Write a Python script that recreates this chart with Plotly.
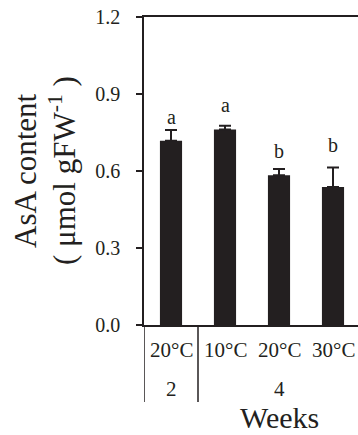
import plotly.graph_objects as go

categories = ["20°C", "10°C", "20°C", "30°C"]
week_labels = ["2", "4"]
week_centers = [0, 2]
values = [0.718, 0.762, 0.583, 0.538]
errors = [0.042, 0.014, 0.025, 0.076]
letters = ["a", "a", "b", "b"]
letter_y = [0.779, 0.825, 0.647, 0.669]
y_ticks = [0.0, 0.3, 0.6, 0.9, 1.2]

INK = "#231f20"
FONT = "Liberation Serif"

W, H = 358, 435
ML, MT, MB = 144, 17, 110
plot_h = H - MT - MB
plot_w = W - ML

x_idx = list(range(len(categories)))

fig = go.Figure()
fig.add_trace(go.Bar(
    x=x_idx, y=values, width=0.41,
    marker=dict(color=INK, line=dict(width=0)),
    error_y=dict(type="data", symmetric=False, array=errors,
                 arrayminus=[0] * len(errors),
                 color=INK, thickness=2, width=6),
    showlegend=False,
))

ann = []
for xi, ly, lt in zip(x_idx, letter_y, letters):
    ann.append(dict(x=xi, y=ly, xref="x", yref="y", text=lt, showarrow=False,
                    yanchor="bottom", yshift=-5, font=dict(size=20, color=INK, family=FONT)))

def py(px):
    return -(px - (MT + plot_h)) / plot_h

for xi, c in zip(x_idx, categories):
    ann.append(dict(x=xi, y=py(350), xref="x", yref="paper", text=c, showarrow=False,
                    yanchor="middle", font=dict(size=21, color=INK, family=FONT)))
for xc, wl in zip(week_centers, week_labels):
    ann.append(dict(x=xc, y=py(389), xref="x", yref="paper", text=wl, showarrow=False,
                    yanchor="middle", font=dict(size=21, color=INK, family=FONT)))
ann.append(dict(x=2, y=py(417), xref="x", yref="paper", text="Weeks", showarrow=False,
                yanchor="middle", font=dict(size=30, color=INK, family=FONT)))

def pxp(px):
    return (px - ML) / plot_w

ann.append(dict(x=pxp(25), y=0.5, xref="paper", yref="paper", text="AsA content",
                textangle=-90, showarrow=False, xanchor="center", yanchor="middle",
                font=dict(size=31, color=INK, family=FONT)))
ann.append(dict(x=pxp(62), y=0.5, xref="paper", yref="paper",
                text="( μmol gFW<sup>-1</sup> )",
                textangle=-90, showarrow=False, xanchor="center", yanchor="middle",
                font=dict(size=31, color=INK, family=FONT)))

shapes = []
for xs in [-0.5, 0.5]:
    shapes.append(dict(type="line", xref="x", yref="paper", x0=xs, x1=xs,
                       y0=0, y1=py(402), line=dict(color=INK, width=1.5)))

fig.update_layout(
    width=W, height=H,
    margin=dict(l=ML, r=0, t=MT, b=MB, pad=0),
    paper_bgcolor="white", plot_bgcolor="white",
    font=dict(family=FONT, color=INK),
    xaxis=dict(range=[-0.5, -0.5 + plot_w / 54.0], showticklabels=False, ticks="",
               showgrid=False, zeroline=False, showline=True, linecolor=INK,
               linewidth=1.5, mirror=True),
    yaxis=dict(range=[0, 1.2], tickvals=y_ticks, tickformat=".1f", ticks="outside",
               ticklen=6, tickwidth=1.5, tickcolor=INK, showgrid=False, zeroline=False,
               showline=True, linecolor=INK, linewidth=1.5,
               tickfont=dict(size=20, color=INK, family=FONT), ticklabelstandoff=12),
    annotations=ann, shapes=shapes,
)

fig.write_html("out.html")
